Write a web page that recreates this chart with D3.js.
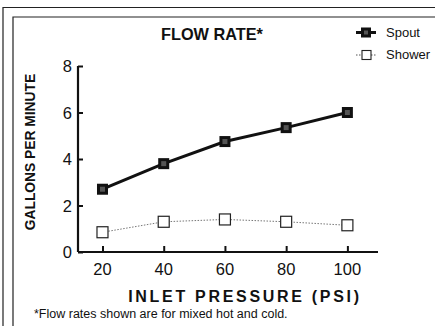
<!DOCTYPE html>
<html>
<head>
<meta charset="utf-8">
<script src="https://cdn.jsdelivr.net/npm/d3@7"></script>
<style>
  html, body { margin: 0; padding: 0; background: #fff; }
  svg { display: block; }
  text { font-family: "Liberation Sans", Arial, Helvetica, sans-serif; fill: #111; }
</style>
</head>
<body>
<svg id="chart" width="435" height="326"></svg>
<script>
// Flow rate vs inlet pressure
const pressures = [20, 40, 60, 80, 100];
const spout = [2.7, 3.8, 4.75, 5.35, 6.0];
const shower = [0.85, 1.3, 1.4, 1.3, 1.15];
const yTicks = [0, 2, 4, 6, 8];
const xTicks = [20, 40, 60, 80, 100];

const svg = d3.select("#chart");

// double frame rules (top and left)
const frame = svg.append("g").attr("stroke", "#222").attr("fill", "none");
frame.append("path").attr("d", "M3,326 V7.5 H435").attr("stroke-width", 1.2);
frame.append("path").attr("d", "M13,326 V17 H435").attr("stroke-width", 1.2);

const x = d3.scaleLinear().domain([12, 110]).range([78, 378]);
const y = d3.scaleLinear().domain([0, 8]).range([252, 66]);

// y axis
const yAxis = svg.append("g").attr("transform", "translate(78,0)")
  .call(d3.axisRight(y).tickValues(yTicks).tickSize(5).tickFormat(""));
yAxis.select(".domain").attr("d", `M0,${y(8)}V${y(0)}`).attr("stroke", "#111").attr("stroke-width", 2.2);
yAxis.selectAll(".tick line").attr("stroke", "#111").attr("stroke-width", 2);
svg.append("g").selectAll("text").data(yTicks).join("text")
  .attr("x", 72).attr("y", d => y(d) + 6)
  .attr("text-anchor", "end").attr("font-size", 16.5).text(d => d);

// x axis
const xAxis = svg.append("g").attr("transform", `translate(0,${y(0)})`)
  .call(d3.axisTop(x).tickValues(xTicks).tickSize(6).tickFormat(""));
xAxis.select(".domain").attr("d", `M${x(12)},0H${x(110)}`).attr("stroke", "#111").attr("stroke-width", 2.2);
xAxis.selectAll(".tick line").attr("stroke", "#111").attr("stroke-width", 2);
svg.append("g").selectAll("text").data(xTicks).join("text")
  .attr("x", d => x(d)).attr("y", 275)
  .attr("text-anchor", "middle").attr("font-size", 16.5).text(d => d);

// titles
svg.append("text").attr("x", 212).attr("y", 40).attr("text-anchor", "middle")
  .attr("font-size", 16.3).attr("font-weight", "bold").text("FLOW RATE*");
svg.append("text").attr("x", 245).attr("y", 302).attr("text-anchor", "middle")
  .attr("font-size", 16).attr("font-weight", "bold").attr("letter-spacing", 2.7)
  .text("INLET PRESSURE (PSI)");
svg.append("text").attr("transform", "translate(35,152) rotate(-90)").attr("text-anchor", "middle")
  .attr("font-size", 13.8).attr("font-weight", "bold").text("GALLONS PER MINUTE");
svg.append("text").attr("x", 34).attr("y", 318).attr("font-size", 12.5)
  .text("*Flow rates shown are for mixed hot and cold.");

const line = d3.line().x((d, i) => x(pressures[i])).y(d => y(d));

// shower series: thin dotted line with open squares
svg.append("path").datum(shower).attr("d", line)
  .attr("fill", "none").attr("stroke", "#777").attr("stroke-width", 1)
  .attr("stroke-dasharray", "1.5,1.5");
svg.append("g").selectAll("rect").data(shower).join("rect")
  .attr("x", (d, i) => x(pressures[i]) - 5.5).attr("y", d => y(d) - 5.5)
  .attr("width", 11).attr("height", 11)
  .attr("fill", "#fff").attr("stroke", "#222").attr("stroke-width", 1.2);

// spout series: heavy line with filled squares
svg.append("path").datum(spout).attr("d", line)
  .attr("fill", "none").attr("stroke", "#111").attr("stroke-width", 3);
const sp = svg.append("g").selectAll("g").data(spout).join("g")
  .attr("transform", (d, i) => `translate(${x(pressures[i])},${y(d)})`);
sp.append("rect").attr("x", -5.5).attr("y", -5.5).attr("width", 11).attr("height", 11)
  .attr("fill", "#111");
sp.append("rect").attr("x", -2.5).attr("y", -2.5).attr("width", 5).attr("height", 5)
  .attr("fill", "#555");

// legend
const legend = svg.append("g");
legend.append("line").attr("x1", 356).attr("x2", 376).attr("y1", 32.5).attr("y2", 32.5)
  .attr("stroke", "#111").attr("stroke-width", 3);
legend.append("rect").attr("x", 361).attr("y", 27.5).attr("width", 10).attr("height", 10).attr("fill", "#111");
legend.append("rect").attr("x", 364).attr("y", 30.5).attr("width", 4).attr("height", 4).attr("fill", "#555");
legend.append("text").attr("x", 386).attr("y", 37).attr("font-size", 13).text("Spout");
legend.append("line").attr("x1", 356).attr("x2", 376).attr("y1", 55).attr("y2", 55)
  .attr("stroke", "#555").attr("stroke-width", 1).attr("stroke-dasharray", "1.5,1.5");
legend.append("rect").attr("x", 362).attr("y", 50.5).attr("width", 9).attr("height", 9)
  .attr("fill", "#fff").attr("stroke", "#222").attr("stroke-width", 1.1);
legend.append("text").attr("x", 386).attr("y", 59).attr("font-size", 13).text("Shower");
</script>
</body>
</html>
